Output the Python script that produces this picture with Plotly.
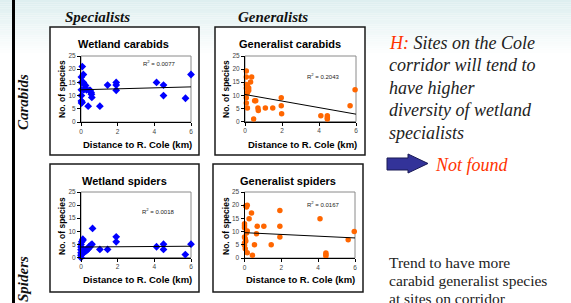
import plotly.graph_objects as go

W, H = 571, 303

# ---------------- data ----------------
wc_x = [0.07, 0.02, 0.13, 0.02, 0.13, 0.18, 0.25, 0.02, 0.15, 0.3, 0.45, 0.55, 0.02, 0.02, 0.06, 0.03,
        0.39, 0.57, 0.59, 0.5, 1.03, 1.45, 1.92, 1.92, 1.92, 4.12, 4.5, 4.5, 5.7, 6.0]
wc_y = [21, 17, 18, 15, 15, 14.2, 13.8, 12.2, 12.2, 12.2, 12, 11.2, 10, 8, 7.5, 7.2,
        6, 10.5, 9.3, 12, 6, 14, 15, 14, 12, 15, 14, 10, 9, 18]

gc_x = [0.07, 0.07, 0.36, 0.3, 0.07, 0.13, 0.07, 0.2, 0.2, 0.13, 0.07, 0.07, 0.13, 0.47, 0.52, 0.58,
        0.7, 0.72, 1.1, 1.5, 1.96, 1.96, 1.98, 4.1, 4.45, 4.45, 4.45, 5.68, 5.95]
gc_y = [19.3, 17, 17, 15.1, 14.1, 13.6, 12.8, 12.8, 11.8, 11, 9.1, 7.1, 5.2, 1, 7.9, 7.9,
        5.2, 4.2, 5.2, 5.2, 9.1, 6, 3, 2.2, 2.2, 1.4, 1, 6, 12.1]

ws_x = [0, 0, 0, 0, 0, 0, 0.04, 0.1, 0.1, 0.07, 0.17, 0.26, 0.35, 0.44, 0.53, 0.6, 0.05, 0.12, 0.22,
        0.3, 0.4, 0.48, 0.63, 1.03, 1.45, 1.92, 1.92, 4.12, 4.5, 4.5, 5.69, 6.0]
ws_y = [0, 0.9, 1.8, 3, 4, 5, 6, 6.6, 7, 2.2, 2.8, 2.8, 3.4, 4.1, 4.7, 5.1, 1.2, 1.8, 2.3,
        2.6, 3.3, 3.9, 11.1, 3.1, 3.1, 7.9, 6, 4.1, 5.1, 3.1, 1.1, 5.1]

gs_x = [0.15, 0.11, 0.07, 0.38, 0.25, 0.69, 1.05, 0, 0, 0, 0.15, 0.11, 0.65, 0, 0.04, 0.07, 0, 0,
        0.04, 0.54, 1.45, 1.92, 1.92, 1.92, 4.1, 4.42, 4.42, 4.42, 0.15, 0.43, 5.63, 5.96]
gs_y = [20, 19.3, 19.7, 17, 14.9, 12, 12, 13, 12.2, 11.5, 10.2, 9.5, 9.2, 8, 7.3, 6.4, 5.7, 4.8,
        3.5, 5, 5, 18, 12, 8, 14.9, 1.9, 1.3, 0.8, 2, 1, 6.9, 10]

# trend lines: value at x=0 and at x=6
trend_start = [12.2, 10.3, 4.0, 9.6]
trend_end = [13.3, 2.8, 4.3, 7.6]
r2_labels = ["R² = 0.0077", "R² = 0.2043", "R² = 0.0018", "R² = 0.0167"]
panel_titles = ["Wetland carabids", "Generalist carabids", "Wetland spiders", "Generalist spiders"]
x_ticks = [0, 2, 4, 6]
y_ticks = [0, 5, 10, 15, 20, 25]

# ---------------- layout helpers ----------------
def fx(p):
    return p / W

def fy(p):
    return 1 - p / H

BLUE = "#0000FF"
ORANGE = "#FF6600"

panels = [
    dict(x=wc_x, y=wc_y, color=BLUE, sym="diamond", size=6,
         plot=(81, 191, 56, 122), box=(50, 199, 27, 155),
         title=(123, 44), xt=(137, 144), yt=(62, 89), r2=(159, 63)),
    dict(x=gc_x, y=gc_y, color=ORANGE, sym="circle", size=5.5,
         plot=(245, 356, 56, 121.5), box=(215, 365, 27, 155),
         title=(290, 44), xt=(302, 144), yt=(226, 89), r2=(323, 76)),
    dict(x=ws_x, y=ws_y, color=BLUE, sym="diamond", size=6,
         plot=(81, 191, 192, 257.5), box=(50, 199, 164, 292),
         title=(124, 181), xt=(137, 279), yt=(62, 226), r2=(158, 211)),
    dict(x=gs_x, y=gs_y, color=ORANGE, sym="circle", size=5.5,
         plot=(244.5, 355, 192, 258), box=(213, 363, 164, 292),
         title=(288, 181), xt=(300, 279), yt=(226, 226), r2=(323, 204)),
]

fig = go.Figure()
shapes = []
annotations = []

# background gradient at top
top_c = (222, 239, 240)
nb = 24
for i in range(nb):
    t = i / nb
    c = tuple(int(top_c[k] + (255 - top_c[k]) * t) for k in range(3))
    shapes.append(dict(type="rect", xref="paper", yref="paper", x0=0, x1=1,
                       y0=fy((i + 1) * 2.2), y1=fy(i * 2.2), line=dict(width=0),
                       fillcolor="rgb(%d,%d,%d)" % c, layer="below"))

# left black bar
shapes.append(dict(type="rect", xref="paper", yref="paper", x0=fx(12), x1=fx(15),
                   y0=0, y1=1, line=dict(width=0), fillcolor="black", layer="below"))

layout_axes = {}
for i, p in enumerate(panels):
    n = i + 1
    xs = "" if n == 1 else str(n)
    x0, x1, y0, y1 = p["plot"]
    bx0, bx1, by0, by1 = p["box"]
    # panel box
    shapes.append(dict(type="rect", xref="paper", yref="paper", x0=fx(bx0), x1=fx(bx1),
                       y0=fy(by1), y1=fy(by0), line=dict(color="#1a1a1a", width=1.5),
                       fillcolor="white", layer="below"))
    # plot-area grey frame
    shapes.append(dict(type="rect", xref="x%s domain" % xs, yref="y%s domain" % xs,
                       x0=0, x1=1, y0=0, y1=1, line=dict(color="#8a8a8a", width=1),
                       layer="below"))
    common = dict(showline=True, linecolor="black", linewidth=1, ticks="outside",
                  ticklen=3, tickwidth=1, tickcolor="black", showgrid=False,
                  zeroline=False, fixedrange=True,
                  tickfont=dict(family="Liberation Sans", size=6.5, color="#444444"))
    layout_axes["xaxis" + xs] = dict(domain=[fx(x0), fx(x1)], anchor="y" + xs,
                                     range=[0, 6], tickvals=x_ticks, **common)
    layout_axes["yaxis" + xs] = dict(domain=[fy(y1), fy(y0)], anchor="x" + xs,
                                     range=[0, 25], tickvals=y_ticks, **common)
    fig.add_trace(go.Scatter(x=p["x"], y=p["y"], mode="markers", xaxis="x" + xs, yaxis="y" + xs,
                             marker=dict(color=p["color"], symbol=p["sym"], size=p["size"],
                                         line=dict(width=0)),
                             cliponaxis=False, showlegend=False, hoverinfo="skip"))
    fig.add_trace(go.Scatter(x=[0, 6], y=[trend_start[i], trend_end[i]], mode="lines",
                             xaxis="x" + xs, yaxis="y" + xs,
                             line=dict(color="black", width=1), showlegend=False,
                             hoverinfo="skip"))
    # texts
    annotations.append(dict(text="<b>%s</b>" % panel_titles[i], xref="paper", yref="paper",
                            x=fx(p["title"][0]), y=fy(p["title"][1]), showarrow=False,
                            xanchor="center", yanchor="middle",
                            font=dict(family="Liberation Sans", size=11, color="black")))
    annotations.append(dict(text="<b>Distance to R. Cole (km)</b>", xref="paper", yref="paper",
                            x=fx(p["xt"][0]), y=fy(p["xt"][1]), showarrow=False,
                            xanchor="center", yanchor="middle",
                            font=dict(family="Liberation Sans", size=9.5, color="black")))
    annotations.append(dict(text="<b>No. of species</b>", xref="paper", yref="paper",
                            x=fx(p["yt"][0]), y=fy(p["yt"][1]), showarrow=False, textangle=-90,
                            xanchor="center", yanchor="middle",
                            font=dict(family="Liberation Sans", size=8.5, color="black")))
    r2 = r2_labels[i].replace("²", "<sup>2</sup>")
    annotations.append(dict(text=r2, xref="paper", yref="paper",
                            x=fx(p["r2"][0]), y=fy(p["r2"][1]), showarrow=False,
                            xanchor="center", yanchor="middle",
                            font=dict(family="Liberation Sans", size=6, color="#222222")))

serif = "Liberation Serif, Times New Roman, serif"
# column headers
for txt, cx in [("Specialists", 98), ("Generalists", 273)]:
    annotations.append(dict(text=txt, xref="paper", yref="paper",
                            x=fx(cx), y=fy(17), showarrow=False, xanchor="center",
                            yanchor="middle",
                            font=dict(family=serif, size=15, color="#111111",
                                      style="italic", weight="bold")))
# row labels
for txt, cy in [("Carabids", 102), ("Spiders", 279)]:
    annotations.append(dict(text=txt, xref="paper", yref="paper",
                            x=fx(23), y=fy(cy), showarrow=False, textangle=-90,
                            xanchor="center", yanchor="middle",
                            font=dict(family=serif, size=15, color="#111111",
                                      style="italic", weight="bold")))

# hypothesis text
hyp_lines = ['<span style="color:#FF3300">H:</span> Sites on the Cole',
             "corridor will tend to", "have higher", "diversity of wetland", "specialists"]
hyp_y = [43, 65, 88, 110, 133]
for t, yy in zip(hyp_lines, hyp_y):
    annotations.append(dict(text=t, xref="paper", yref="paper", x=fx(387),
                            y=fy(yy), showarrow=False, xanchor="left", yanchor="middle",
                            font=dict(family=serif, size=18, color="#222222", style="italic")))
annotations.append(dict(text="Not found", xref="paper", yref="paper", x=fx(433),
                        y=fy(165), showarrow=False, xanchor="left", yanchor="middle",
                        font=dict(family=serif, size=18, color="#FF3300", style="italic")))
trend_lines = ["Trend to have more", "carabid generalist species", "at sites on corridor"]
for t, yy in zip(trend_lines, [262, 280, 298]):
    annotations.append(dict(text=t, xref="paper", yref="paper", x=fx(387), y=fy(yy),
                            showarrow=False, xanchor="left", yanchor="middle",
                            font=dict(family=serif, size=15.5, color="#222222")))

# block arrow
pts = [(387, 158), (408, 158), (408, 154), (428, 163.5), (408, 173), (408, 170), (387, 170)]
path = "M " + " L ".join("%.5f,%.5f" % (fx(a), fy(b)) for a, b in pts) + " Z"
shapes.append(dict(type="path", xref="paper", yref="paper", path=path,
                   fillcolor="#333399", line=dict(color="#1a1a55", width=1)))

fig.update_layout(width=W, height=H, margin=dict(l=0, r=0, t=0, b=0),
                  paper_bgcolor="white", plot_bgcolor="white", template="none",
                  hovermode=False,
                  shapes=shapes, annotations=annotations, **layout_axes)

fig.write_html("out.html", config={"displayModeBar": False, "staticPlot": True},
               post_script="document.body.style.margin='0';document.body.style.overflow='hidden';")
